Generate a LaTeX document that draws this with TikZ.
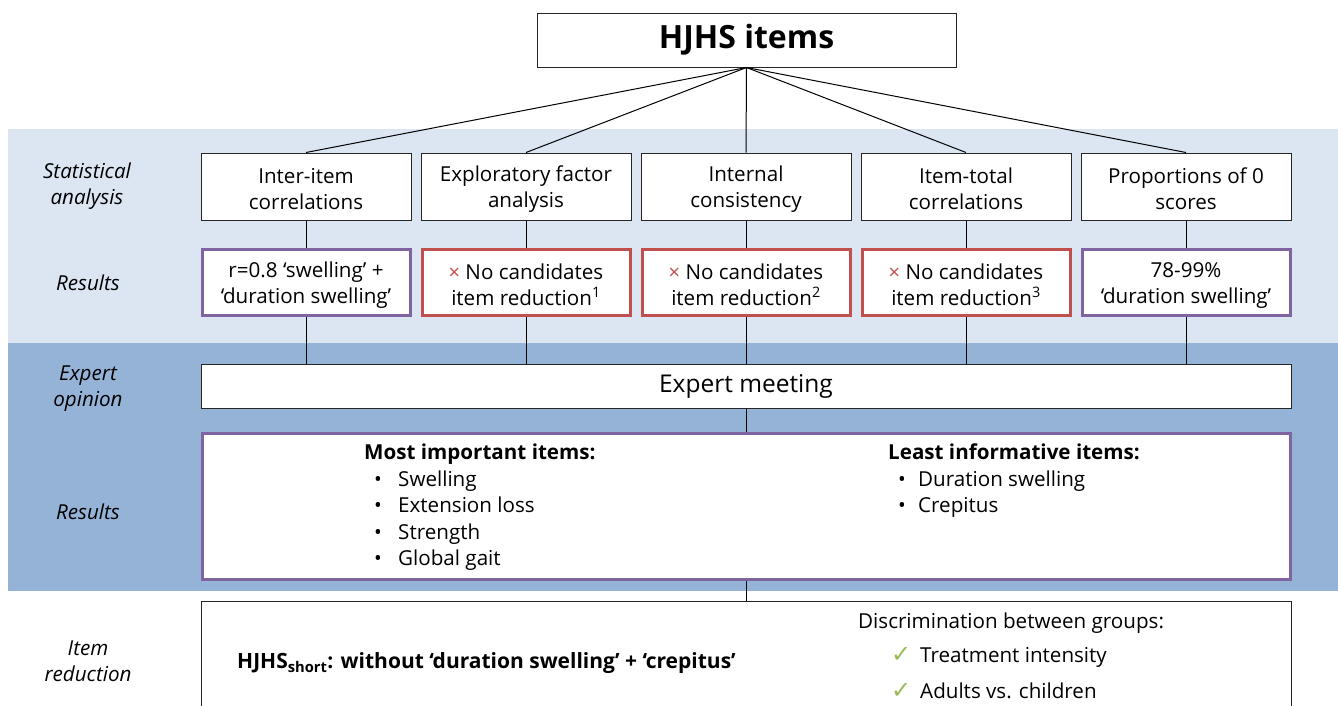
\documentclass[tikz,border=0pt]{standalone}
\usepackage{fontspec}
\setmainfont{Open Sans}
\newfontfamily\symfont{DejaVu Sans}
\definecolor{bandlight}{HTML}{DCE6F2}
\definecolor{banddark}{HTML}{95B3D7}
\definecolor{respurple}{HTML}{8064A2}
\definecolor{resred}{HTML}{C0504D}
\definecolor{okgreen}{HTML}{9BBB59}
\newcommand\topgap{\rule{0pt}{21pt}}
\begin{document}
\begin{tikzpicture}[x=1pt,y=-1pt,
  txt/.style={font=\fontsize{20.6}{26}\selectfont},
  box/.style={txt, draw=black!85, line width=1pt, fill=white, inner sep=0pt, align=center},
  statbox/.style={box, minimum width=210, minimum height=67},
  purplebox/.style={box, draw=respurple, line width=3pt, minimum width=208, minimum height=66},
  redbox/.style={box, draw=resred, line width=3pt, minimum width=208, minimum height=66},
  sidelabel/.style={txt, align=center, font=\fontsize{20.6}{26}\selectfont\itshape},
  link/.style={draw=black, line width=1pt},
]
\clip (0,0) rectangle (1338,705);
\fill[white] (0,0) rectangle (1338,705);
\fill[bandlight] (8,129) rectangle (1338,343);
\fill[banddark] (8,343) rectangle (1338,591);

% top
\node[box, minimum width=419, minimum height=54, font=\fontsize{32}{36}\selectfont\bfseries] (top) at (746.5,40) {HJHS items};

% statistical analysis boxes
\node[statbox] (s1) at (306,186.5) {\topgap Inter-item\\correlations};
\node[statbox] (s2) at (526,186.5) {\topgap Exploratory factor\\analysis};
\node[statbox] (s3) at (746,186.5) {\topgap Internal\\consistency};
\node[statbox] (s4) at (966,186.5) {\topgap Item-total\\correlations};
\node[statbox] (s5) at (1186,186.5) {\topgap Proportions of 0\\scores};

% results boxes
\node[purplebox] (r1) at (306,282) {\topgap r=0.8 ‘swelling’ +\\‘duration swelling’};
\node[redbox] (r2) at (526,282) {\topgap{\color{resred}\fontsize{20}{26}\selectfont ×} No candidates\\item reduction\textsuperscript{1}};
\node[redbox] (r3) at (746,282) {\topgap{\color{resred}\fontsize{20}{26}\selectfont ×} No candidates\\item reduction\textsuperscript{2}};
\node[redbox] (r4) at (966,282) {\topgap{\color{resred}\fontsize{20}{26}\selectfont ×} No candidates\\item reduction\textsuperscript{3}};
\node[purplebox] (r5) at (1186,282) {\topgap 78-99\%\\‘duration swelling’};

% expert meeting
\node[box, minimum width=1090, minimum height=44, font=\fontsize{24.5}{28}\selectfont] (em) at (746,386) {Expert meeting};

% big results box
\node[box, draw=respurple, line width=3pt, minimum width=1088, minimum height=146] (big) at (746,506) {};
\node[txt, anchor=north west, align=left, inner sep=0pt, font=\fontsize{20.6}{26.5}\selectfont] (most) at (364,444)
  {\textbf{Most important items:}\\
   \hspace*{10pt}\makebox[24pt][l]{•}Swelling\\
   \hspace*{10pt}\makebox[24pt][l]{•}Extension loss\\
   \hspace*{10pt}\makebox[24pt][l]{•}Strength\\
   \hspace*{10pt}\makebox[24pt][l]{•}Global gait};
\node[txt, anchor=north west, align=left, inner sep=0pt, font=\fontsize{20.6}{26.5}\selectfont] (least) at (888,444)
  {\textbf{Least informative items:}\\
   \hspace*{10pt}\makebox[20pt][l]{•}Duration swelling\\
   \hspace*{10pt}\makebox[20pt][l]{•}Crepitus};

% bottom box
\node[box, minimum width=1090, minimum height=139] (bot) at (746,670.5) {};
\node[txt, anchor=west, inner sep=0pt, font=\fontsize{21}{26}\selectfont\bfseries] (short) at (237,663)
  {HJHS\textsubscript{short}: without ‘duration swelling’ + ‘crepitus’};
\node[txt, anchor=west, inner sep=0pt] (disc) at (858,623) {Discrimination between groups:};
\node[txt, anchor=west, inner sep=0pt] (c1) at (891,657) {\makebox[29pt][l]{\symfont\fontsize{24}{26}\selectfont\color{okgreen}✓}Treatment intensity};
\node[txt, anchor=west, inner sep=0pt] (c2) at (891,691) {\makebox[29pt][l]{\symfont\fontsize{24}{26}\selectfont\color{okgreen}✓}Adults vs. children};

% side labels
\node[sidelabel] (l1) at (87,186) {Statistical\\analysis};
\node[sidelabel] (l2) at (88,283) {Results};
\node[sidelabel] (l3) at (88,389) {Expert\\opinion};
\node[sidelabel] (l4) at (88,512) {Results};
\node[sidelabel] (l5) at (88,661) {Item\\reduction};

% connectors
\foreach \i in {1,...,5} {
  \draw[link] (top.south) -- (s\i.north);
  \draw[link] (s\i.south) -- (r\i.north);
  \draw[link] (r\i.south) -- (r\i.south |- em.north);
}
\draw[link] (em.south) -- (big.north);
\draw[link] (big.south) -- (bot.north);
\end{tikzpicture}
\end{document}
